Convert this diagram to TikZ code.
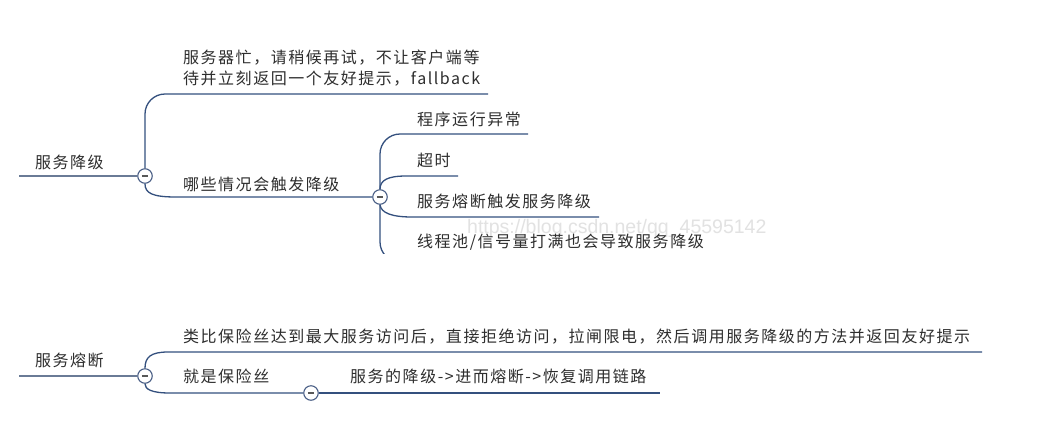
\documentclass[tikz,border=0pt]{standalone}
\usepackage{fontspec}
\setmainfont{Noto Sans CJK SC}
\newfontfamily\cjk[LetterSpace=9.5]{Noto Sans CJK SC}
\newfontfamily\wmfont{Liberation Sans}
\definecolor{branch}{HTML}{34507E}
\definecolor{rootline}{HTML}{6A7B96}
\definecolor{txt}{HTML}{2E2E2E}
\definecolor{knob}{HTML}{4A5F86}
\definecolor{wm}{HTML}{E2E2E2}
\begin{document}
\begin{tikzpicture}[x=1pt,y=-1pt,
  label/.style={anchor=west,inner sep=0pt,text=txt,font=\cjk\fontsize{16}{22}\selectfont},
  wrap/.style={label,align=left},
  link/.style={draw=branch,line width=1.3pt},
  rootlink/.style={draw=rootline,line width=1.3pt},
  knobnode/.style={circle,draw=knob,line width=1.1pt,fill=white,minimum size=14.5pt,inner sep=0pt,
    path picture={\draw[txt!80,line width=1.2pt] ([xshift=-3.2pt]path picture bounding box.center) -- ([xshift=3.2pt]path picture bounding box.center);}},
  soft/.style={rounded corners=20pt}]
\useasboundingbox (0,0) rectangle (1051,429);
\fill[white] (0,0) rectangle (1051,429);

% ---------- 服务降级 ----------
\coordinate (r1s) at (19,176);
\node[knobnode] (k1) at (145,176) {};
\node[label] (r1) at (35,162) {服务降级};
\draw[rootlink] (r1s) -- (k1.west);

\coordinate (a1e) at (488,94);
\node[wrap] (a1) at (183,68) {服务器忙，请稍候再试，不让客户端等\\[-1pt]待并立刻返回一个友好提示，fallback};
\draw[link,soft] (k1.north) |- (a1e);

\node[knobnode] (k2) at (380,197) {};
\node[label] (a2) at (183,184) {哪些情况会触发降级};
\draw[link] (k1.south) .. controls (145,193) and (152,197) .. (176,197) -- (k2.west);

\coordinate (b1e) at (528,134);
\node[label] (b1) at (417,119) {程序运行异常};
\draw[link,soft] (k2.north) |- (b1e);

\coordinate (b2e) at (458,176);
\node[label] (b2) at (417,160.5) {超时};
\draw[link] (k2.north) .. controls (380,180) and (388,176) .. (406,176) -- (b2e);

\coordinate (b3e) at (599,217);
\node[label] (b3) at (417,201) {服务熔断触发服务降级};
\draw[link] (k2.south) .. controls (381,213) and (392,217) .. (412,217) -- (b3e);

% faint site mark, drawn beneath the last item
\node[anchor=west,inner sep=0pt,text=wm,font=\wmfont\fontsize{19.5}{21}\selectfont] (mark) at (467,228) {https://blog.csdn.net/qq\_45595142};

\node[label] (b4) at (417,242) {线程池/信号量打满也会导致服务降级};
\begin{scope}
  \clip (300,150) rectangle (500,253.5);
  \coordinate (b4e) at (470,262);
  \draw[link,soft] (k2.south) |- (b4e);
\end{scope}

% ---------- 服务熔断 ----------
\coordinate (r2s) at (19,376);
\node[knobnode] (k3) at (145,376) {};
\node[label] (r2) at (35,360) {服务熔断};
\draw[rootlink] (r2s) -- (k3.west);

\coordinate (c1e) at (982,352);
\node[label] (c1) at (183,336.5) {类比保险丝达到最大服务访问后，直接拒绝访问，拉闸限电，然后调用服务降级的方法并返回友好提示};
\draw[link] (k3.north) .. controls (145,357) and (151,352) .. (168,352) -- (c1e);

\node[knobnode] (k4) at (311,393) {};
\node[label] (c2) at (183,376) {就是保险丝};
\draw[link] (k3.south) .. controls (145,389) and (151,393) .. (170,393) -- (k4.west);

\coordinate (d1e) at (660,393);
\node[label] (d1) at (350,376) {服务的降级->进而熔断->恢复调用链路};
\draw[link] (k4.east) -- (d1e);
\end{tikzpicture}
\end{document}
